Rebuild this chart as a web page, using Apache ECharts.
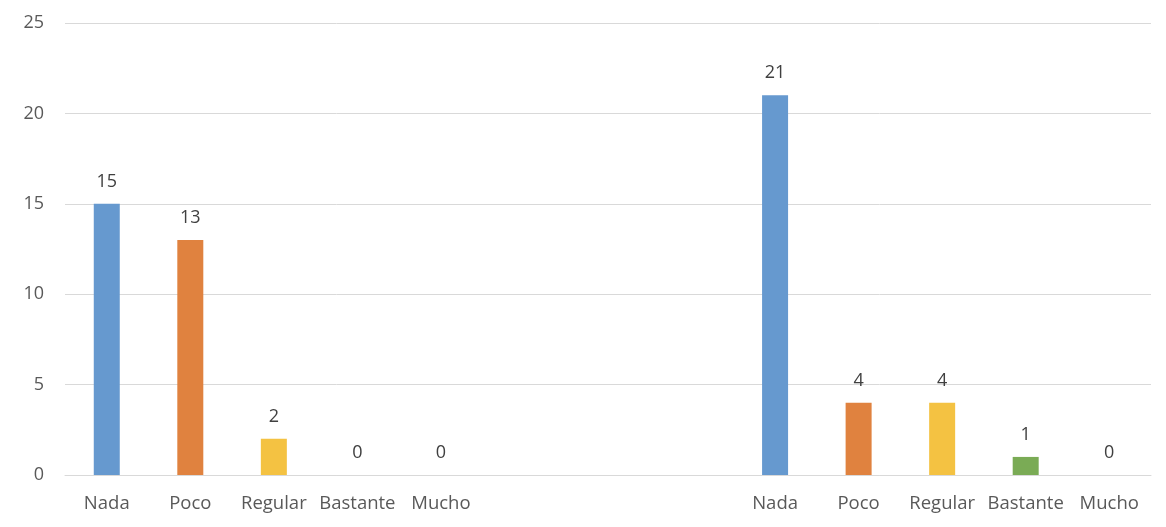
<!DOCTYPE html>
<html>
<head>
<meta charset="utf-8">
<script src="https://cdn.jsdelivr.net/npm/echarts@6/dist/echarts.min.js"></script>
<style>
html,body{margin:0;padding:0;background:#fff;}
#chart{width:1166px;height:527px;}
</style>
</head>
<body>
<div id="chart"></div>
<script>
const categories = ['Nada', 'Poco', 'Regular', 'Bastante', 'Mucho', '', '', '', 'Nada', 'Poco', 'Regular', 'Bastante', 'Mucho'];
const values = [15, 13, 2, 0, 0, null, null, null, 21, 4, 4, 1, 0];
const yTicks = [0, 5, 10, 15, 20, 25];

const palette = ['#6699CF', '#E0823F', '#F4C242', '#7AAB55', '#4472C4'];

const chart = echarts.init(document.getElementById('chart'));
const font = '"Open Sans", "Noto Sans", sans-serif';

const seriesData = values.map((v, i) => ({
  value: v,
  itemStyle: { color: palette[(i < 5 ? i : i - 8) % 5] }
}));

chart.setOption({
  animation: false,
  backgroundColor: '#ffffff',
  grid: { left: 65, right: 15, top: 23, bottom: 52, containLabel: false },
  xAxis: {
    type: 'category',
    data: categories,
    axisLine: { show: true, lineStyle: { color: '#D9D9D9', width: 1 } },
    axisTick: { show: false },
    axisLabel: { color: '#595959', fontSize: 18.5, fontFamily: font, margin: 19, interval: 0 },
    splitLine: { show: false }
  },
  yAxis: {
    type: 'value',
    min: yTicks[0],
    max: yTicks[yTicks.length - 1],
    interval: yTicks[1] - yTicks[0],
    axisLine: { show: false },
    axisTick: { show: false },
    axisLabel: { color: '#595959', fontSize: 18, fontFamily: font, margin: 21 },
    splitLine: { show: true, lineStyle: { color: '#D9D9D9', width: 1 } }
  },
  series: [{
    type: 'bar',
    data: seriesData,
    barWidth: 26,
    label: {
      show: true,
      position: 'top',
      distance: 13,
      color: '#404040',
      fontSize: 18,
      fontFamily: font,
      formatter: p => (p.value === null || p.value === undefined ? '' : String(p.value))
    }
  }]
});
</script>
</body>
</html>
